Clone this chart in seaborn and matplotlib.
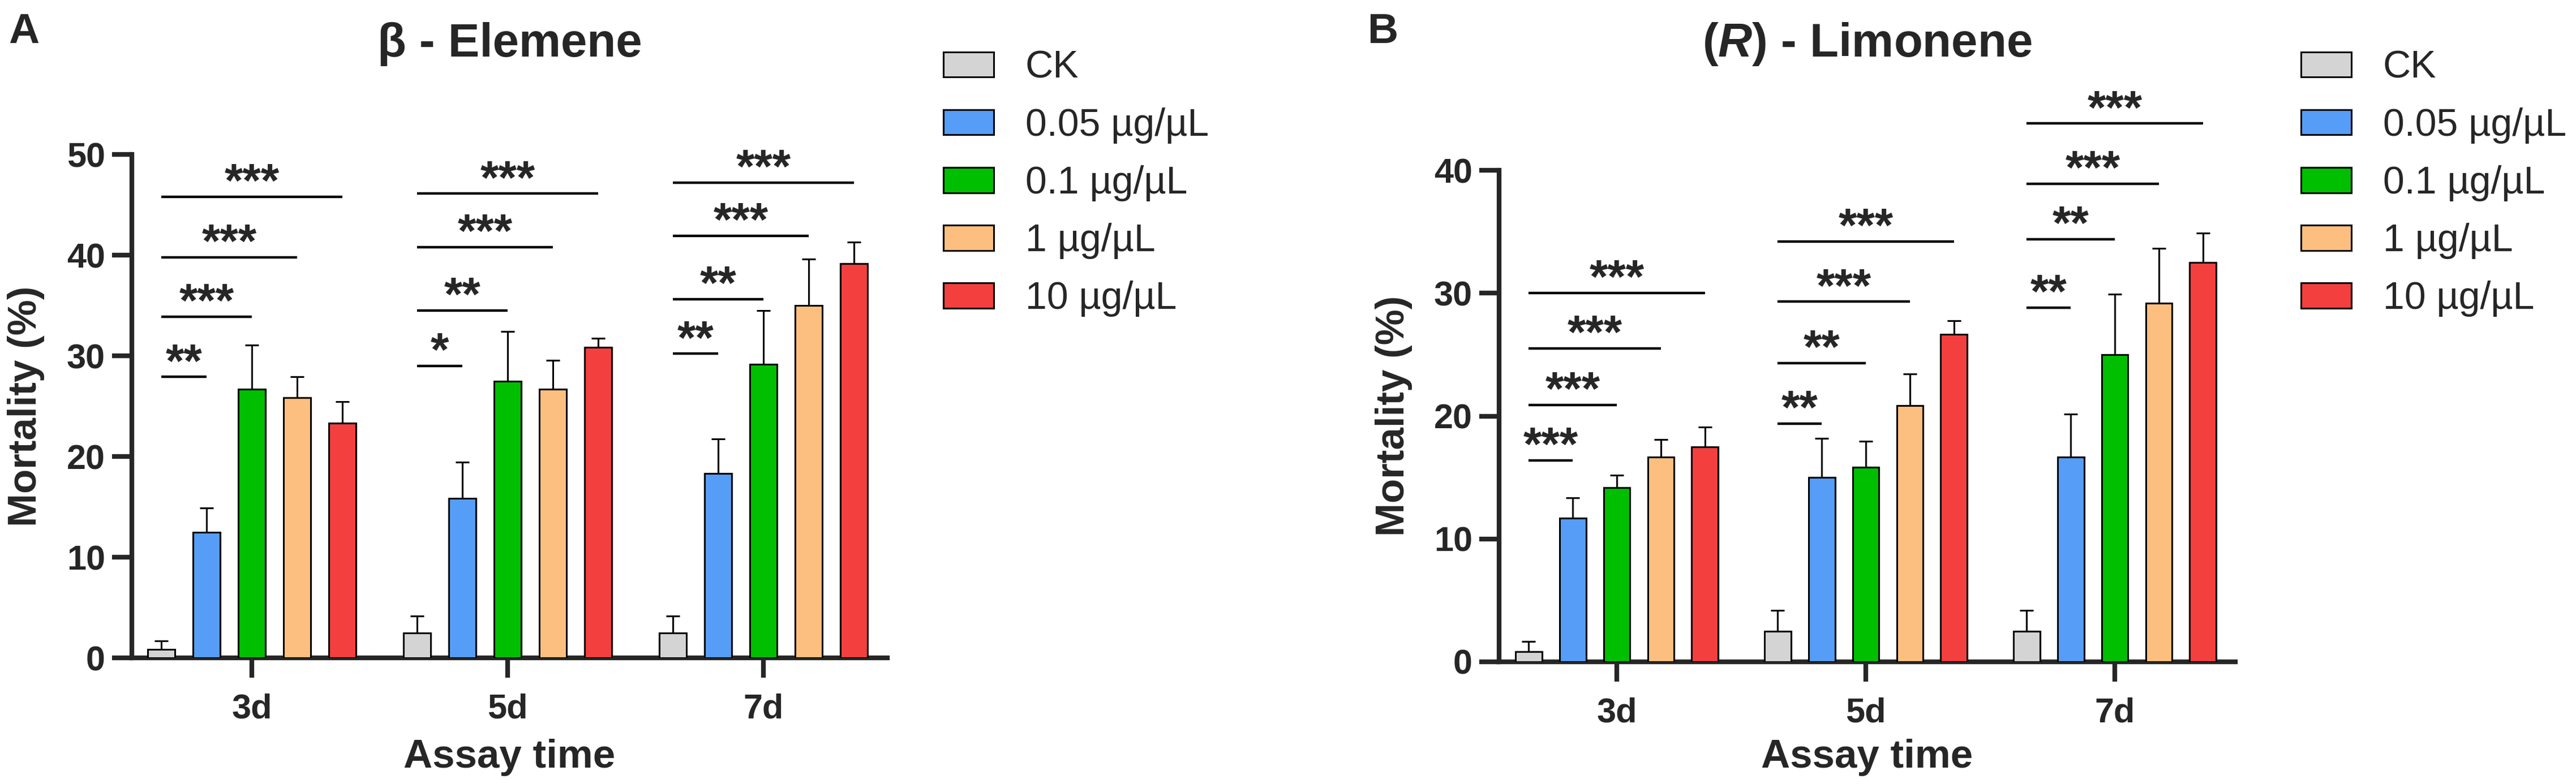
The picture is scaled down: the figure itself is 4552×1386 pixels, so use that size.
import numpy as np
import pandas as pd
import matplotlib
matplotlib.use("Agg")
import matplotlib.pyplot as plt
from matplotlib.patches import Patch
import seaborn as sns

times = ["3d", "5d", "7d"]
doses = ["CK", "0.05 µg/µL", "0.1 µg/µL", "1 µg/µL", "10 µg/µL"]
colors = ["#D4D4D4", "#569DF8", "#00BF00", "#FDBF7F", "#F43F3F"]

# beta-Elemene, mortality (%) mean and SE per dose, for 3d / 5d / 7d
elem_mean = {
    "CK": [0.83, 2.5, 2.5],
    "0.05 µg/µL": [12.5, 15.83, 18.33],
    "0.1 µg/µL": [26.67, 27.5, 29.17],
    "1 µg/µL": [25.83, 26.67, 35.0],
    "10 µg/µL": [23.33, 30.83, 39.17],
}
elem_err = {
    "CK": [0.83, 1.67, 1.67],
    "0.05 µg/µL": [2.4, 3.6, 3.4],
    "0.1 µg/µL": [4.4, 4.9, 5.3],
    "1 µg/µL": [2.1, 2.9, 4.6],
    "10 µg/µL": [2.1, 0.9, 2.1],
}
# (R)-Limonene
limo_mean = {
    "CK": [0.83, 2.5, 2.5],
    "0.05 µg/µL": [11.67, 15.0, 16.67],
    "0.1 µg/µL": [14.17, 15.83, 25.0],
    "1 µg/µL": [16.67, 20.83, 29.17],
    "10 µg/µL": [17.5, 26.67, 32.5],
}
limo_err = {
    "CK": [0.83, 1.67, 1.67],
    "0.05 µg/µL": [1.67, 3.2, 3.5],
    "0.1 µg/µL": [1.0, 2.1, 4.9],
    "1 µg/µL": [1.4, 2.6, 4.5],
    "10 µg/µL": [1.6, 1.1, 2.4],
}

# significance brackets vs CK: stars and line height per time point
elem_stars = [["**", "***", "***", "***"],
              ["*", "**", "***", "***"],
              ["**", "**", "***", "***"]]
elem_sig_y = [[27.9, 33.9, 39.8, 45.8],
              [29.0, 34.5, 40.8, 46.1],
              [30.2, 35.6, 41.9, 47.2]]
limo_stars = [["***", "***", "***", "***"],
              ["**", "**", "***", "***"],
              ["**", "**", "***", "***"]]
limo_sig_y = [[16.4, 20.9, 25.5, 30.0],
              [19.4, 24.3, 29.3, 34.2],
              [28.8, 34.4, 38.9, 43.8]]

sns.set_style("ticks")
plt.rcParams["font.family"] = ["Liberation Sans", "DejaVu Sans"]
plt.rcParams["mathtext.fontset"] = "custom"
plt.rcParams["mathtext.it"] = "Liberation Sans:italic:bold"
plt.rcParams["mathtext.rm"] = "Liberation Sans:bold"

W, H = 4552, 1386
fig = plt.figure(figsize=(W / 100, H / 100), dpi=100)


def px(x, y):
    return x / W, 1 - y / H


def make_df(means):
    rows = []
    for d in doses:
        for t, v in zip(times, means[d]):
            rows.append({"time": t, "dose": d, "mortality": v})
    return pd.DataFrame(rows)


def draw_panel(rect, means, errs, stars, sig_y, ymax, xlim, title, letter,
               letter_x, ylab_x, legend_x):
    ax = fig.add_axes(rect)
    df = make_df(means)
    sns.barplot(data=df, x="time", y="mortality", hue="dose", palette=colors,
                hue_order=doses, order=times, width=0.885, gap=0.4,
                saturation=1, edgecolor="black", linewidth=2.2,
                errorbar=None, legend=False, ax=ax, zorder=3)

    centers = {}
    for d, cont in zip(doses, ax.containers):
        xs = [b.get_x() + b.get_width() / 2 for b in cont]
        ys = [b.get_height() for b in cont]
        centers[d] = xs
        e = errs[d]
        _, caps, _ = ax.errorbar(xs, ys, yerr=[np.zeros(len(e)), e], fmt="none",
                                 ecolor="black", elinewidth=2.2, capsize=8.5,
                                 capthick=2.2, zorder=2, clip_on=False)
        caps[0].set_visible(False)

    for ti in range(len(times)):
        x0 = centers["CK"][ti]
        for k, d in enumerate(doses[1:]):
            x1 = centers[d][ti]
            y = sig_y[ti][k]
            ax.plot([x0, x1], [y, y], color="black", lw=3.2,
                    clip_on=False, solid_capstyle="butt")
            ax.text((x0 + x1) / 2, y, stars[ti][k], ha="center", va="baseline",
                    fontsize=60, fontweight="bold", clip_on=False)

    ax.set_ylim(0, ymax)
    ax.set_xlim(*xlim)
    ax.set_yticks(np.arange(0, ymax + 1, 10))
    ax.set_xlabel("")
    ax.set_ylabel("")
    sns.despine(ax=ax)
    for s in ["left", "bottom"]:
        ax.spines[s].set_linewidth(6)
    ax.tick_params(axis="both", width=6, length=25, labelsize=44)
    ax.tick_params(axis="x", pad=20)
    ax.tick_params(axis="y", pad=9)
    for lab in ax.get_xticklabels() + ax.get_yticklabels():
        lab.set_fontweight("bold")

    left = rect[0]
    right = rect[0] + rect[2]
    cx = (left + right) / 2
    fig.text(cx, px(0, 100)[1], title, ha="center", va="baseline",
             fontsize=60, fontweight="bold")
    fig.text(px(letter_x, 0)[0], px(0, 76)[1], letter, ha="left",
             va="baseline", fontsize=54, fontweight="bold")
    fig.text(px(ylab_x, 0)[0], rect[1] + rect[3] / 2, "Mortality (%)",
             rotation=90, ha="center", va="center", fontsize=51,
             fontweight="bold")
    fig.text(cx, px(0, 1357)[1], "Assay time", ha="center", va="baseline",
             fontsize=51, fontweight="bold")

    handles = [Patch(facecolor=c, edgecolor="black", linewidth=2.2)
               for c in colors]
    fig.legend(handles, doses, loc="upper left",
               bbox_to_anchor=px(legend_x, 88), bbox_transform=fig.transFigure,
               frameon=False, fontsize=49, handlelength=1.31,
               handleheight=0.63, handletextpad=0.82, labelspacing=0.56,
               borderpad=0, borderaxespad=0)
    return ax


draw_panel([233 / W, 1 - 1163 / H, 1335 / W, 890 / H], elem_mean, elem_err,
           elem_stars, elem_sig_y, 50, (-0.469, 2.485), "β - Elemene", "A",
           15, 46, 1667)
draw_panel([2649 / W, 1 - 1170 / H, 1301 / W, 869 / H], limo_mean, limo_err,
           limo_stars, limo_sig_y, 40, (-0.473, 2.484),
           r"($\mathit{R}$) - Limonene", "B", 2417, 2463, 4066)

fig.savefig("out.png", dpi=100, facecolor="white")
